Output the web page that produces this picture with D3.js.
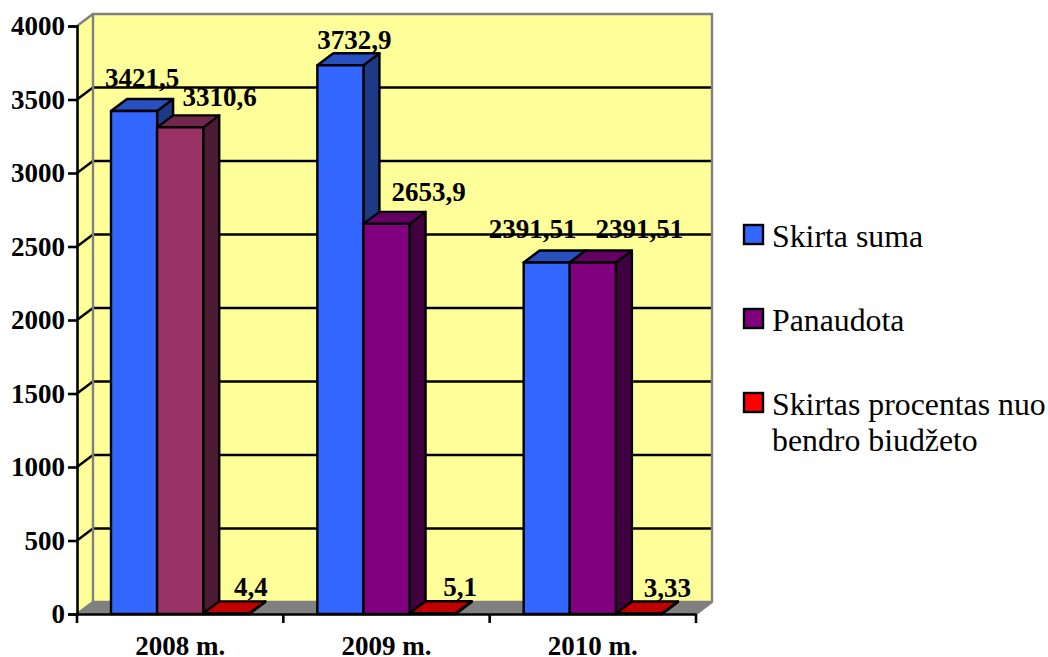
<!DOCTYPE html>
<html>
<head>
<meta charset="utf-8">
<script src="https://cdn.jsdelivr.net/npm/d3@7"></script>
<style>
    html, body { margin: 0; padding: 0; background: #fff; }
    svg { display: block; }
    text { font-family: "Liberation Serif", serif; fill: #000; }
</style>
</head>
<body>
<div id="chart-area"></div>
<script>
const categories = ["2008 m.", "2009 m.", "2010 m."];
const seriesNames = ["Skirta suma", "Panaudota", "Skirtas procentas nuo bendro biudžeto"];
const skirtaSuma = [3421.5, 3732.9, 2391.51];
const panaudota = [3310.6, 2653.9, 2391.51];
const skirtasProcentas = [4.4, 5.1, 3.33];
const valueLabels = [
    ["3421,5", "3732,9", "2391,51"],
    ["3310,6", "2653,9", "2391,51"],
    ["4,4", "5,1", "3,33"]
];
const yTicks = [0, 500, 1000, 1500, 2000, 2500, 3000, 3500, 4000];

const seriesValues = [skirtaSuma, panaudota, skirtasProcentas];

// bar faces: front, top, side
const blue = ["#3366ff", "#2850c0", "#1c3a85"];
const purple = ["#800080", "#640064", "#400040"];
const plum = ["#993366", "#72264c", "#4d1a33"];
const red = ["#cc0000", "#c00000", "#800000"];
const swatches = ["#3366ff", "#800080", "#ff0000"];

function barColors(s, c) {
    if (s === 0) return blue;
    if (s === 2) return red;
    return c === 0 ? plum : purple; // first purple bar is recoloured in the original
}

// excel moved most of the labels by hand, [dx, baseline above back top edge]
const labelNudge = [
    [[8, 12], [14, 4], [-14, 12]],
    [[39.5, 9], [42, 11], [46.5, 12]],
    [[24.5, 5], [27.5, 5], [28.5, 5]]
];

const width = 1048, height = 657;
const depthX = 16, depthY = 12;
const plot = { left: 77, right: 696, top: 26, bottom: 614 };

const svg = d3.select("#chart-area").append("svg")
    .attr("width", width)
    .attr("height", height);

const x = d3.scaleBand().domain(categories).range([plot.left, plot.right]);
const inner = d3.scaleBand().domain(d3.range(3)).range([34, x.step() - 34]);
const y = d3.scaleLinear().domain([0, 4000]).range([plot.bottom, plot.top]);

// walls and floor
svg.append("polygon")
    .attr("points", [[plot.left, plot.top], [plot.left + depthX, plot.top - depthY], [plot.left + depthX, plot.bottom - depthY], [plot.left, plot.bottom]].join(" "))
    .attr("fill", "#ffff99");
svg.append("rect")
    .attr("x", plot.left + depthX).attr("y", plot.top - depthY)
    .attr("width", plot.right - plot.left).attr("height", plot.bottom - plot.top)
    .attr("fill", "#ffff99");
svg.append("polygon")
    .attr("points", [[plot.left, plot.bottom], [plot.left + depthX, plot.bottom - depthY], [plot.right + depthX, plot.bottom - depthY], [plot.right, plot.bottom]].join(" "))
    .attr("fill", "#808080");

// gridlines on back wall + the slanted bit on the side wall
const grid = svg.append("g");
grid.selectAll("path")
    .data(yTicks.filter(d => d > 0 && d < 4000))
    .join("path")
    .attr("fill", "none")
    .attr("stroke", "#000")
    .attr("stroke-width", 2.4)
    .attr("d", d => `M${plot.left},${y(d)}L${plot.left + depthX},${y(d) - depthY}L${plot.right + depthX},${y(d) - depthY}`);

// grey wall edges
svg.append("path")
    .attr("fill", "none")
    .attr("stroke", "#808080")
    .attr("stroke-width", 2.4)
    .attr("d", `M${plot.left},${plot.top}L${plot.left + depthX},${plot.top - depthY}L${plot.right + depthX},${plot.top - depthY}L${plot.right + depthX},${plot.bottom - depthY}L${plot.right},${plot.bottom}`
        + `M${plot.left + depthX},${plot.top - depthY}L${plot.left + depthX},${plot.bottom - depthY}L${plot.right + depthX},${plot.bottom - depthY}M${plot.left},${plot.bottom}L${plot.left + depthX},${plot.bottom - depthY}`);

// bars
const barW = inner.bandwidth();
seriesValues.forEach((values, s) => {
    values.forEach((v, c) => {
        const x0 = x(categories[c]) + inner(s);
        const x1 = x0 + barW;
        const yt = y(v);
        const colors = barColors(s, c);
        const g = svg.append("g")
            .attr("stroke", "#000")
            .attr("stroke-width", 2.4)
            .attr("stroke-linejoin", "round");
        g.append("polygon")
            .attr("points", [[x1, yt], [x1 + depthX, yt - depthY], [x1 + depthX, plot.bottom - depthY], [x1, plot.bottom]].join(" "))
            .attr("fill", colors[2]);
        g.append("polygon")
            .attr("points", [[x0, yt], [x0 + depthX, yt - depthY], [x1 + depthX, yt - depthY], [x1, yt]].join(" "))
            .attr("fill", colors[1]);
        g.append("rect")
            .attr("x", x0).attr("y", yt)
            .attr("width", barW).attr("height", plot.bottom - yt)
            .attr("fill", colors[0]);
    });
});

// axes
const yAxis = svg.append("g")
    .attr("transform", `translate(${plot.left},0)`)
    .call(d3.axisLeft(y).tickValues(yTicks).tickSize(9).tickPadding(3).tickFormat(d3.format("d")));
const xAxis = svg.append("g")
    .attr("transform", `translate(0,${plot.bottom})`)
    .call(d3.axisBottom(x).tickSize(0).tickPadding(22));
xAxis.selectAll("line").remove();
xAxis.selectAll(".sep")
    .data(d3.range(4))
    .join("line")
    .attr("class", "sep")
    .attr("x1", d => plot.left + d * x.step())
    .attr("x2", d => plot.left + d * x.step())
    .attr("y1", 0).attr("y2", 9);
[yAxis, xAxis].forEach(a => {
    a.selectAll("path").attr("stroke", "#000").attr("stroke-width", 2.6);
    a.selectAll("line").attr("stroke", "#000").attr("stroke-width", 2.6);
    a.selectAll("text")
        .attr("font-family", "Liberation Serif")
        .attr("font-size", 27)
        .attr("font-weight", "bold");
});

// value labels
seriesValues.forEach((values, s) => {
    values.forEach((v, c) => {
        const cx = x(categories[c]) + inner(s) + barW / 2;
        svg.append("text")
            .attr("x", cx + labelNudge[s][c][0])
            .attr("y", y(v) - depthY - labelNudge[s][c][1])
            .attr("text-anchor", "middle")
            .attr("font-size", 27)
            .attr("font-weight", "bold")
            .text(valueLabels[s][c]);
    });
});

// legend
const legendRows = [
    { y: 225, lines: [seriesNames[0]] },
    { y: 309, lines: [seriesNames[1]] },
    { y: 393, lines: ["Skirtas procentas nuo", "bendro biudžeto"] }
];
const legend = svg.selectAll(".legend")
    .data(legendRows)
    .join("g")
    .attr("class", "legend")
    .attr("transform", d => `translate(744,${d.y})`);
legend.append("rect")
    .attr("width", 19).attr("height", 19)
    .attr("fill", (d, i) => swatches[i])
    .attr("stroke", "#000")
    .attr("stroke-width", 2.4);
legend.selectAll("text")
    .data(d => d.lines)
    .join("text")
    .attr("x", 28)
    .attr("y", (d, i) => 21.5 + i * 36)
    .attr("font-size", 31.8)
    .text(d => d);
</script>
</body>
</html>
